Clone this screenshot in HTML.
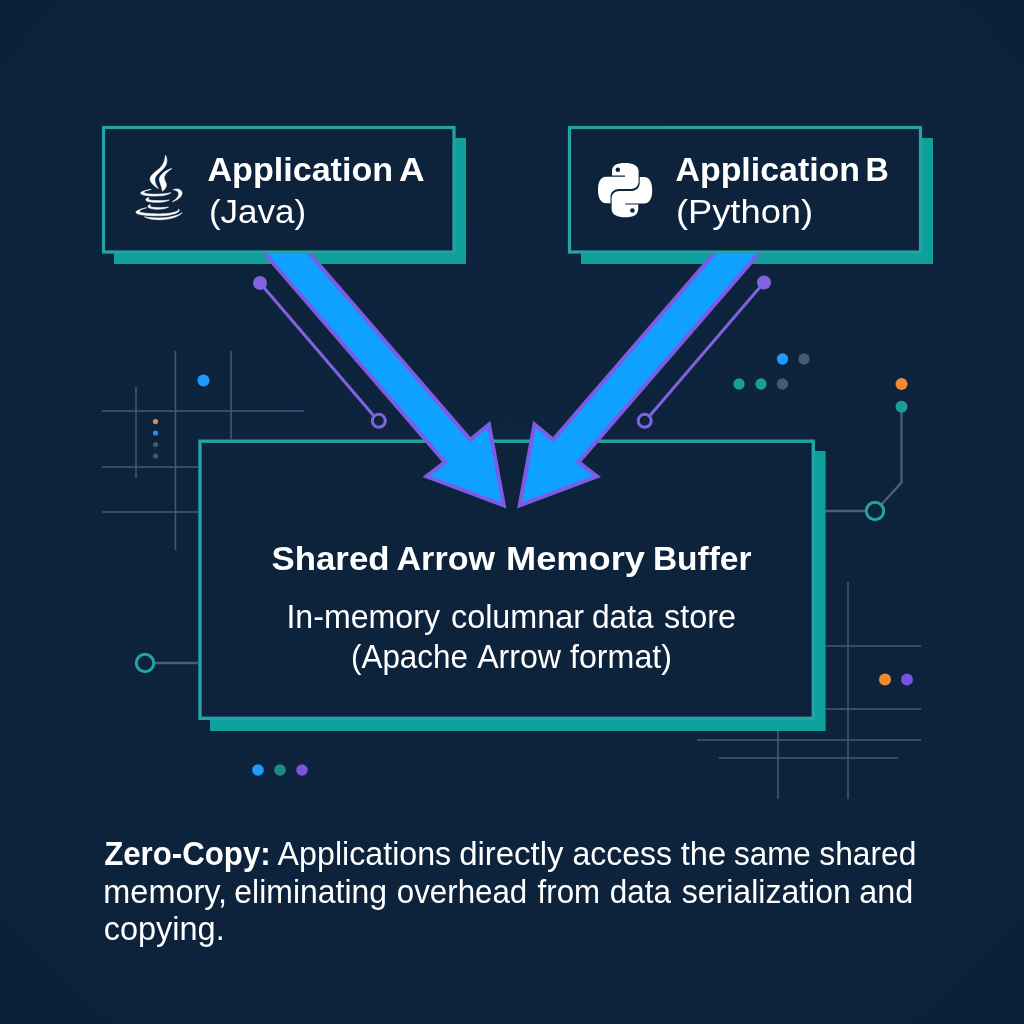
<!DOCTYPE html>
<html lang="en">
<head>
<meta charset="utf-8">
<title>Apache Arrow Zero-Copy Shared Memory</title>
<style>
  html, body { margin: 0; padding: 0; background: #0d233c; }
  body { width: 1024px; height: 1024px; overflow: hidden; position: relative; }
  svg { position: absolute; left: 0; top: 0; display: block; will-change: transform; }
  text { font-family: "Liberation Sans", sans-serif; fill: #ffffff; }
  .b { font-weight: bold; }
</style>
</head>
<body>
<svg width="1024" height="1024" viewBox="0 0 1024 1024">
  <defs>
    <radialGradient id="bg" cx="50%" cy="48%" r="75%">
      <stop offset="0" stop-color="#0d243e"/>
      <stop offset="0.6" stop-color="#0d233c"/>
      <stop offset="1" stop-color="#0b2038"/>
    </radialGradient>
  </defs>
  <rect x="0" y="0" width="1024" height="1024" fill="url(#bg)"/>

  <!-- decorative grid lines -->
  <g id="grid" stroke="#455a77" stroke-width="1.5" fill="none">
    <path d="M136 387V478 M175.500 351V550 M231 351V439 M102 411H304 M102 467H198 M102 512H198"/>
    <path d="M848 582V799 M778 731V799 M825 646H921 M825 709H921 M697 740H921 M719 758H898"/>
  </g>
  <g id="conn" stroke="#49607c" stroke-width="2.300" fill="none">
    <path d="M155 663H198 M825 511H866 M901.500 406V482.500L881.500 504.500"/>
  </g>

  <!-- purple thin connectors -->
  <g id="plines" stroke="#8063de" stroke-width="3" fill="none">
    <path d="M260 283L373.500 415.500 M764 282.500L650 415.500"/>
    <circle cx="378.800" cy="420.800" r="6.500"/>
    <circle cx="644.700" cy="420.800" r="6.500"/>
  </g>
  <circle cx="260" cy="283" r="7" fill="#8063de"/>
  <circle cx="764" cy="282.500" r="7" fill="#8063de"/>

  <!-- teal open circles -->
  <g stroke="#27a0a2" stroke-width="3" fill="none">
    <circle cx="145" cy="663" r="8.700"/>
    <circle cx="875" cy="511" r="8.700"/>
  </g>

  <!-- dots -->
  <g id="dots">
    <circle cx="203.500" cy="380.500" r="6" fill="#1e9bff"/>
    <circle cx="155.500" cy="421.500" r="2.600" fill="#e88a45"/>
    <circle cx="155.500" cy="433" r="2.600" fill="#2f86f0"/>
    <circle cx="155.500" cy="444.500" r="2.600" fill="#46566c"/>
    <circle cx="155.500" cy="456" r="2.600" fill="#46566c"/>

    <circle cx="782.500" cy="359" r="5.700" fill="#1e9bff"/>
    <circle cx="804" cy="359" r="5.700" fill="#475a70"/>
    <circle cx="739" cy="384" r="5.700" fill="#1a9d96"/>
    <circle cx="761" cy="384" r="5.700" fill="#1a9d96"/>
    <circle cx="782.500" cy="384" r="5.700" fill="#475a70"/>
    <circle cx="901.500" cy="384" r="6" fill="#f28a33"/>
    <circle cx="901.500" cy="406.700" r="6" fill="#1a9d96"/>

    <circle cx="885" cy="679.500" r="6" fill="#f28a33"/>
    <circle cx="907" cy="679.500" r="6" fill="#7a52e0"/>

    <circle cx="258" cy="770" r="5.800" fill="#1e9bff"/>
    <circle cx="280" cy="770" r="5.800" fill="#1f8a88"/>
    <circle cx="302" cy="770" r="5.800" fill="#7a52e0"/>
  </g>

  <!-- box shadows -->
  <rect x="210" y="451" width="615.600" height="280" fill="#0ea09b"/>
  <rect x="114" y="138" width="352" height="126" fill="#0ea09b"/>
  <rect x="581" y="138" width="352" height="126" fill="#0ea09b"/>

  <!-- main box -->
  <rect x="200" y="441.200" width="613.300" height="277.100" fill="#0d233c" stroke="#24a2a5" stroke-width="3.400"/>

  <!-- arrows -->
  <g id="arrows" fill="#0ea1ff" stroke="#7c5ce4" stroke-width="4" stroke-linejoin="miter">
    <path id="arrowA" d="M257.5 245 L302 245 L470.3 439.8 L489 424.5 L503.8 505.3 L426.5 476.5 L445 462.2 Z"/>
    <path id="arrowB" d="M766 245 L721.5 245 L553.2 439.8 L534.5 424.5 L519.7 505.3 L597 476.5 L578.5 462.2 Z"/>
  </g>

  <!-- box A -->
  <rect x="103.500" y="127.500" width="350.500" height="124.500" fill="#0d233c" stroke="#24a2a5" stroke-width="3.200"/>
  <!-- box B -->
  <rect x="569.500" y="127.500" width="351" height="124.500" fill="#0d233c" stroke="#24a2a5" stroke-width="3.200"/>

  <!-- Java icon -->
  <g id="java" fill="#ffffff" stroke="#ffffff" stroke-width="0.600" stroke-linejoin="round">
    <path d="M165.500 155.300 C167.400 158.500 167.300 162.500 165.500 165.800 C163.200 170 158.500 172.500 156 176 C154 179 154.500 183.500 158.500 188.700 C153.500 185.500 149.800 182 150.100 178.800 C150.500 174.500 156.500 171.500 160.500 167.500 C163.500 164.500 165 160.500 165.500 155.300 Z"/>
    <path d="M171.800 168.600 C167 169.800 161 173.500 159.500 178 C158.600 181.500 162 185.500 162.400 191.200 C165.500 189 167 186 166.200 183.500 C165.400 181 163.600 179 164.300 176.500 C165.200 173.500 168.500 170.800 171.800 168.600 Z"/>
    <path d="M151.200 189.400 C146 190 141.500 191.300 140.700 192.800 C140 194.500 145 196 155.500 196 C163 196 168.500 194.800 171 192.600 C167.500 193.800 162 194.200 155.500 194.200 C148.500 194.200 143.500 193.300 143.800 192.200 C144.100 191.200 147 190.200 151.200 189.400 Z"/>
    <path d="M173.200 189.800 C176.500 188.200 181.500 188.800 182 192.800 C182.400 196.500 178 200 172.300 201.700 C176 199.500 178.800 196.500 178.700 193.800 C178.600 191.200 176.500 190.300 173.200 189.800 Z"/>
    <path d="M148.800 197.500 C146.500 198.200 145.500 199.300 145.900 200.200 C146.600 201.600 151.500 202.300 157 202.300 C162 202.300 166.800 201.600 169.300 200 C166 200.500 161.500 200.700 157 200.600 C152.500 200.500 148.600 200.100 148.400 199.300 C148.300 198.700 148.500 198.100 148.800 197.500 Z"/>
    <path d="M150.200 204.500 C148.300 205.200 147.600 206.200 148.100 207 C148.900 208.400 153 209.200 157.800 209.200 C162 209.200 166 208.500 168.500 207 C165.500 207.500 161.500 207.700 157.800 207.600 C154 207.500 150.600 207.100 150.300 206.300 C150.100 205.700 150 205.100 150.200 204.500 Z"/>
    <path d="M146.500 207.800 C141 208.800 136.300 210.500 135.900 212.300 C135.600 214.500 145 215.800 159 215.800 C168 215.800 176.500 214 179 211.200 C179.600 210.400 179.200 209.600 178.600 209.200 C178.600 210 178.200 210.600 177.500 211 C174 213 166 213.900 159 213.900 C148 213.900 139.300 212.800 139.400 211.500 C139.500 210.200 142.500 208.800 146.500 207.800 Z"/>
    <path d="M144.500 216.800 C148 219 154 219.800 160 219.700 C169 219.600 178.500 217.300 182.200 212.600 C178 215.900 169 217.800 160 217.900 C154 218 148.500 217.700 144.500 216.800 Z"/>
  </g>

  <!-- Python icon -->
  <g id="python" transform="translate(598 163)">
    <path id="snake" fill="#ffffff" d="M26.900 0 C19 0 14 2.200 14 8.300 L14 12.600 L27 12.600 L27 13.800 L8.200 13.800 C2.200 13.800 0 19.600 0 27 C0 34 2.200 40.200 8.200 40.200 L12.500 40.200 L12.500 34.200 C12.500 29.200 16.400 26.100 21.200 26.100 L32.600 26.100 C37.400 26.100 40.600 23 40.600 18.600 L40.600 8.300 C40.600 2.400 34.600 0 26.900 0 Z"/>
    <path fill="#ffffff" transform="rotate(180 27.100 27.100)" d="M26.900 0 C19 0 14 2.200 14 8.300 L14 12.600 L27 12.600 L27 13.800 L8.200 13.800 C2.200 13.800 0 19.600 0 27 C0 34 2.200 40.200 8.200 40.200 L12.500 40.200 L12.500 34.200 C12.500 29.200 16.400 26.100 21.200 26.100 L32.600 26.100 C37.400 26.100 40.600 23 40.600 18.600 L40.600 8.300 C40.600 2.400 34.600 0 26.900 0 Z"/>
    <circle cx="19.800" cy="6.700" r="2.300" fill="#0d233c"/>
    <circle cx="34.400" cy="47.500" r="2.300" fill="#0d233c"/>
  </g>

  <!-- text -->
  <g id="labels">
    <text class="b" x="207.47" y="181.3" font-size="33.5" textLength="185.59" lengthAdjust="spacingAndGlyphs">Application</text>
    <text class="b" x="398.9" y="181.3" font-size="33.5" textLength="25.66" lengthAdjust="spacingAndGlyphs">A</text>
    <text x="208.92" y="222.6" font-size="33.5" textLength="97.19" lengthAdjust="spacingAndGlyphs">(Java)</text>
    <text class="b" x="675.49" y="181.3" font-size="33.5" textLength="184.54" lengthAdjust="spacingAndGlyphs">Application</text>
    <text class="b" x="865.62" y="181.3" font-size="33.5" textLength="23.31" lengthAdjust="spacingAndGlyphs">B</text>
    <text x="675.93" y="222.6" font-size="33.5" textLength="137.16" lengthAdjust="spacingAndGlyphs">(Python)</text>
    <text class="b" x="271.46" y="569.5" font-size="34" textLength="118.09" lengthAdjust="spacingAndGlyphs">Shared</text>
    <text class="b" x="396.49" y="569.5" font-size="34" textLength="98.51" lengthAdjust="spacingAndGlyphs">Arrow</text>
    <text class="b" x="505.97" y="569.5" font-size="34" textLength="139.03" lengthAdjust="spacingAndGlyphs">Memory</text>
    <text class="b" x="652.9" y="569.5" font-size="34" textLength="98.63" lengthAdjust="spacingAndGlyphs">Buffer</text>
    <text x="286.45" y="628.2" font-size="32.8" textLength="153.55" lengthAdjust="spacingAndGlyphs">In-memory</text>
    <text x="450.97" y="628.2" font-size="32.8" textLength="133.05" lengthAdjust="spacingAndGlyphs">columnar</text>
    <text x="591.99" y="628.2" font-size="32.8" textLength="61.52" lengthAdjust="spacingAndGlyphs">data</text>
    <text x="663.96" y="628.2" font-size="32.8" textLength="72.1" lengthAdjust="spacingAndGlyphs">store</text>
    <text x="350.96" y="667.7" font-size="32.3" textLength="117.06" lengthAdjust="spacingAndGlyphs">(Apache</text>
    <text x="477.19" y="667.7" font-size="32.3" textLength="83.81" lengthAdjust="spacingAndGlyphs">Arrow</text>
    <text x="569.99" y="667.7" font-size="32.3" textLength="102.04" lengthAdjust="spacingAndGlyphs">format)</text>
    <text class="b" x="104.17" y="865" font-size="32.5" textLength="166.49" lengthAdjust="spacingAndGlyphs">Zero-Copy:</text>
    <text x="277.6" y="865" font-size="32.5" textLength="173.62" lengthAdjust="spacingAndGlyphs">Applications</text>
    <text x="459.18" y="865" font-size="32.5" textLength="104.24" lengthAdjust="spacingAndGlyphs">directly</text>
    <text x="572.56" y="865" font-size="32.5" textLength="99.46" lengthAdjust="spacingAndGlyphs">access</text>
    <text x="680.77" y="865" font-size="32.5" textLength="45.49" lengthAdjust="spacingAndGlyphs">the</text>
    <text x="733.93" y="865" font-size="32.5" textLength="76.92" lengthAdjust="spacingAndGlyphs">same</text>
    <text x="819.34" y="865" font-size="32.5" textLength="96.94" lengthAdjust="spacingAndGlyphs">shared</text>
    <text x="103.31" y="902.5" font-size="32.5" textLength="123.81" lengthAdjust="spacingAndGlyphs">memory,</text>
    <text x="234.37" y="902.5" font-size="32.5" textLength="152.68" lengthAdjust="spacingAndGlyphs">eliminating</text>
    <text x="396.77" y="902.5" font-size="32.5" textLength="130.49" lengthAdjust="spacingAndGlyphs">overhead</text>
    <text x="537.58" y="902.5" font-size="32.5" textLength="62.49" lengthAdjust="spacingAndGlyphs">from</text>
    <text x="609.77" y="902.5" font-size="32.5" textLength="61.23" lengthAdjust="spacingAndGlyphs">data</text>
    <text x="681.78" y="902.5" font-size="32.5" textLength="169.08" lengthAdjust="spacingAndGlyphs">serialization</text>
    <text x="859.3" y="902.5" font-size="32.5" textLength="54.07" lengthAdjust="spacingAndGlyphs">and</text>
    <text x="103.73" y="940" font-size="32.5" textLength="120.98" lengthAdjust="spacingAndGlyphs">copying.</text>
  </g>
</svg>
</body>
</html>
